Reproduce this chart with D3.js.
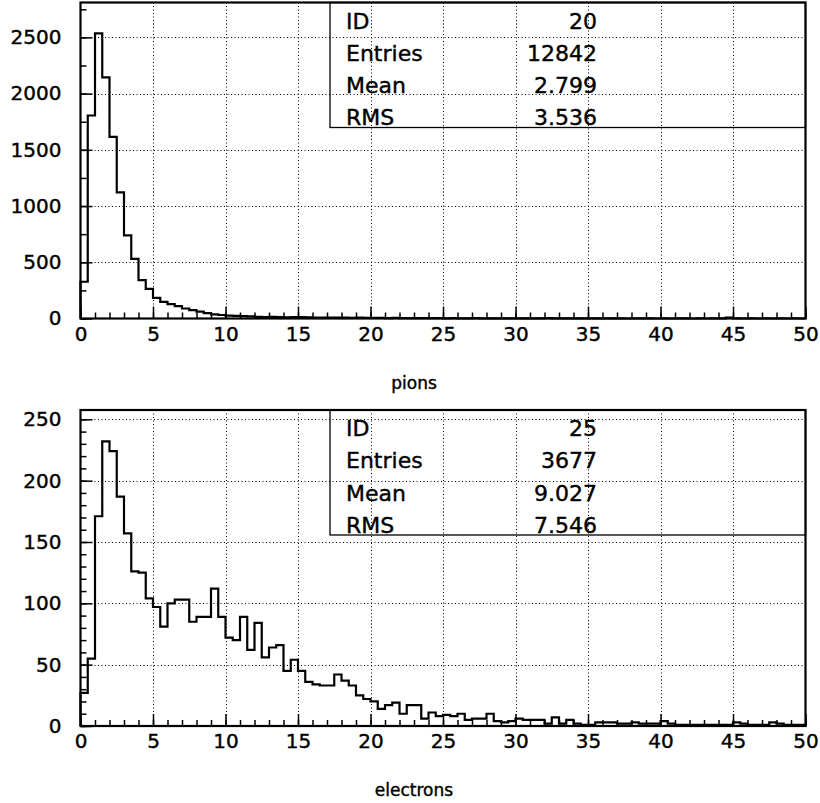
<!DOCTYPE html>
<html>
<head>
<meta charset="utf-8">
<script src="https://cdn.jsdelivr.net/npm/d3@7"></script>
<style>
  body { margin: 0; background: #fff; }
  svg { display: block; font-family: "DejaVu Sans", sans-serif; }
  svg text { fill: #000; stroke: #000; stroke-width: 0.4px; }
</style>
</head>
<body>
<div id="chart"></div>
<script>
// bin edges: 100 bins of width 0.5 from 0 to 50
var binWidth = 0.5;
var xTicks = [0, 5, 10, 15, 20, 25, 30, 35, 40, 45, 50];

// pion counts per bin
var pionCounts = [
  327, 1805, 2536, 2144, 1615, 1122, 739, 531, 341, 264,
  184, 148, 128, 110, 89, 74, 62, 48, 36, 31,
  25, 23, 21, 19, 14, 13, 14, 12, 11, 12,
  13, 10, 9, 8, 8, 9, 7, 6, 7, 6,
  5, 5, 4, 5, 4, 3, 4, 3, 3, 3,
  2, 3, 2, 2, 3, 2, 2, 1, 2, 2,
  1, 2, 1, 2, 4, 2, 1, 1, 2, 1,
  1, 1, 2, 1, 1, 0, 1, 1, 1, 0,
  1, 0, 1, 1, 0, 1, 0, 1, 2, 8,
  1, 0, 1, 0, 1, 0, 1, 0, 1, 0
];

// electron counts per bin
var electronCounts = [
  27, 55, 171, 232, 224, 187, 157, 126, 125, 104,
  97, 81, 100, 103, 103, 85, 89, 89, 112, 89,
  72, 70, 89, 62, 84, 56, 64, 66, 45, 54,
  45, 36, 34, 33, 33, 42, 37, 33, 25, 22,
  20, 14, 17, 19, 10, 17, 17, 6, 11, 8,
  9, 8, 10, 5, 6, 6, 10, 4, 3, 4,
  6, 5, 5, 5, 2, 7, 2, 5, 2, 1,
  1, 3, 3, 3, 2, 2, 3, 2, 2, 2,
  4, 2, 1, 1, 1, 1, 1, 1, 1, 1,
  3, 2, 1, 1, 1, 3, 2, 1, 1, 1
];

// statistics box contents
var statLabels = ["ID", "Entries", "Mean", "RMS"];
var pionStats = ["20", "12842", "2.799", "3.536"];
var electronStats = ["25", "3677", "9.027", "7.546"];

// y ticks for each panel
var pionYTicks = [0, 500, 1000, 1500, 2000, 2500];
var electronYTicks = [0, 50, 100, 150, 200, 250];

var svgWidth = 820;
var svgHeight = 803;

var svg = d3.select("#chart")
  .append("svg")
  .attr("width", svgWidth)
  .attr("height", svgHeight);

// shared x scale (pixels)
var xScale = d3.scaleLinear()
  .domain([0, 50])
  .range([80.5, 805.5]);

// draws one histogram panel
function drawPanel(opts) {
  var g = svg.append("g");

  var yScale = d3.scaleLinear()
    .domain([0, opts.yMax])
    .range([opts.bottom, opts.top]);

  // dotted grid
  var grid = g.append("g")
    .attr("stroke", "#000")
    .attr("stroke-width", 1)
    .attr("stroke-dasharray", "1,2.5");

  grid.selectAll(".vgrid")
    .data(xTicks.filter(d => d > 0 && d < 50))
    .enter()
    .append("line")
    .attr("x1", d => Math.round(xScale(d)) + 0.5)
    .attr("x2", d => Math.round(xScale(d)) + 0.5)
    .attr("y1", opts.top)
    .attr("y2", opts.bottom);

  grid.selectAll(".hgrid")
    .data(opts.yTicks.filter(d => d > 0))
    .enter()
    .append("line")
    .attr("x1", xScale(0))
    .attr("x2", xScale(50))
    .attr("y1", d => Math.round(yScale(d)) + 0.5)
    .attr("y2", d => Math.round(yScale(d)) + 0.5);

  // minor x ticks, every 1 unit, pointing inward
  var minorX = d3.axisBottom(xScale)
    .tickValues(d3.range(0, 51, 1))
    .tickSizeInner(-6)
    .tickSizeOuter(0)
    .tickFormat("");
  g.append("g")
    .attr("transform", `translate(0, ${opts.bottom})`)
    .call(minorX)
    .call(a => a.select(".domain").remove());

  // major x ticks with labels
  var majorX = d3.axisBottom(xScale)
    .tickValues(xTicks)
    .tickSizeInner(-12)
    .tickSizeOuter(0)
    .tickPadding(8)
    .tickFormat(d3.format("d"));
  g.append("g")
    .attr("transform", `translate(0, ${opts.bottom})`)
    .call(majorX)
    .call(a => a.select(".domain").remove())
    .call(a => a.selectAll("text")
      .attr("font-size", "20px")
      .attr("font-family", "DejaVu Sans"));

  // minor y ticks
  var minorY = d3.axisLeft(yScale)
    .tickValues(d3.range(0, opts.yMax, opts.yMinor))
    .tickSizeInner(-6)
    .tickSizeOuter(0)
    .tickFormat("");
  g.append("g")
    .attr("transform", `translate(${xScale(0)}, 0)`)
    .call(minorY)
    .call(a => a.select(".domain").remove());

  // major y ticks with labels
  var majorY = d3.axisLeft(yScale)
    .tickValues(opts.yTicks)
    .tickSizeInner(-12)
    .tickSizeOuter(0)
    .tickPadding(19)
    .tickFormat(d3.format("d"));
  g.append("g")
    .attr("transform", `translate(${xScale(0)}, 0)`)
    .call(majorY)
    .call(a => a.select(".domain").remove())
    .call(a => a.selectAll("text")
      .attr("font-size", "20px")
      .attr("font-family", "DejaVu Sans"));

  g.selectAll(".tick line")
    .attr("stroke", "#000")
    .attr("stroke-width", 1.5);

  // histogram outline as a step line
  var pts = [[0, 0]];
  opts.counts.forEach(function(c, i) {
    pts.push([i * binWidth, c]);
    pts.push([(i + 1) * binWidth, c]);
  });
  pts.push([50, 0]);

  var line = d3.line()
    .x(d => xScale(d[0]))
    .y(d => yScale(d[1]));

  g.append("path")
    .datum(pts)
    .attr("d", line)
    .attr("fill", "none")
    .attr("stroke", "#000")
    .attr("stroke-width", 2.2)
    .attr("stroke-linejoin", "miter");

  // frame
  g.append("rect")
    .attr("x", xScale(0))
    .attr("y", opts.top)
    .attr("width", xScale(50) - xScale(0))
    .attr("height", opts.bottom - opts.top)
    .attr("fill", "none")
    .attr("stroke", "#000")
    .attr("stroke-width", 2.2);

  // stats box (outline only, grid shows through)
  g.append("rect")
    .attr("x", 330)
    .attr("y", opts.top)
    .attr("width", xScale(50) - 330)
    .attr("height", 125)
    .attr("fill", "none")
    .attr("stroke", "#000")
    .attr("stroke-width", 1.3);

  g.selectAll(".statlabel")
    .data(statLabels)
    .enter()
    .append("text")
    .attr("x", 346)
    .attr("y", (d, i) => opts.top + 26 + i * 32.3)
    .attr("font-size", "22px")
    .text(d => d);

  g.selectAll(".statvalue")
    .data(opts.stats)
    .enter()
    .append("text")
    .attr("x", 597)
    .attr("y", (d, i) => opts.top + 26 + i * 32.3)
    .attr("text-anchor", "end")
    .attr("font-size", "22px")
    .text(d => d);

  // x axis title
  g.append("text")
    .attr("x", 414)
    .attr("y", opts.bottom + 70)
    .attr("text-anchor", "middle")
    .attr("font-size", "17px")
    .text(opts.title);
}

drawPanel({
  counts: pionCounts,
  stats: pionStats,
  title: "pions",
  top: 2.5,
  bottom: 318.5,
  yMax: 2810,
  yTicks: pionYTicks,
  yMinor: 250
});

drawPanel({
  counts: electronCounts,
  stats: electronStats,
  title: "electrons",
  top: 410,
  bottom: 726,
  yMax: 257.6,
  yTicks: electronYTicks,
  yMinor: 10
});
</script>
</body>
</html>
